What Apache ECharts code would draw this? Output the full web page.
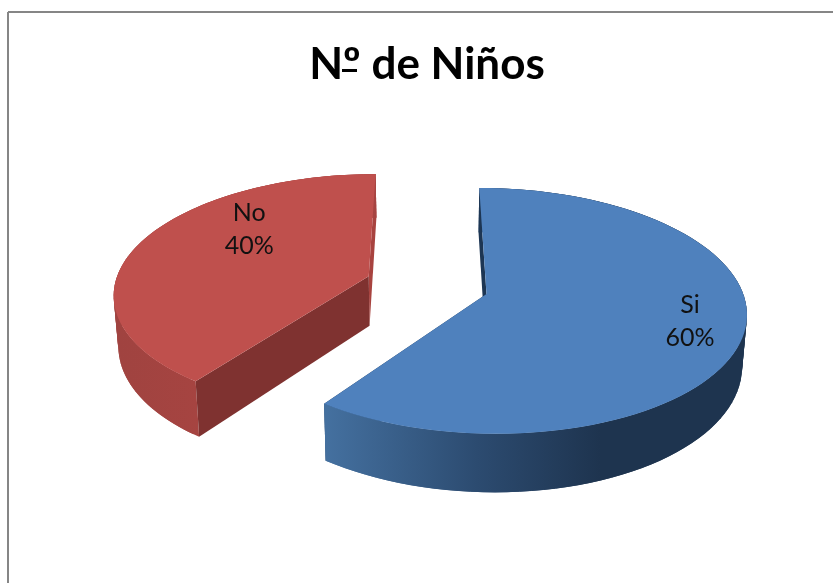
<!DOCTYPE html>
<html>
<head>
<meta charset="utf-8">
<style>html,body{margin:0;padding:0;background:#fff}#c{width:833px;height:583px}</style>
<script src="https://cdn.jsdelivr.net/npm/echarts@6/dist/echarts.min.js"></script>
</head>
<body>
<div id="c"></div>
<script>
var categories = ['Si', 'No'];
var values = [60, 40];
var chartTitle = 'Nº de Niños';

// styling and projection of the tilted, exploded pie
var topColors = ['#4f81bd', '#bf504d'];
var startFaceColors = ['#1d3654', '#7f3230'];
var endFaceColors = ['#1d3654', '#a8433f'];
var sideStops = [
  [[0, '#44709f'], [0.55, '#2c4b70'], [1, '#1e344f']],
  [[0, '#a04340'], [1, '#a64441']]
];
var sideSpan = [[327, 600], [118, 200]];
var labelAt = [{ deg: 106.05, f: 0.781 }, { deg: 309.8, f: 0.661 }];
var view = { cx: 427, cy: 285, rx: 258, ry: 120, radius: 0.985, persp: 0.138, explode: 0.24, depth: 50, baseScale: 0.985 };

var total = values.reduce(function (a, b) { return a + b; }, 0);

function project(u, v, lower) {
  var s = 1 / (1 - view.persp * v);
  var x = view.rx * u * s;
  var y = view.ry * v * s;
  if (lower) { x *= view.baseScale; y += view.depth * s; }
  return [view.cx + x, view.cy + y];
}
function polar(o, deg, r) {
  var a = deg * Math.PI / 180;
  return [o[0] + r * Math.sin(a), o[1] - r * Math.cos(a)];
}
function startDeg(i) {
  var sum = 0;
  for (var k = 0; k < i; k++) sum += values[k];
  return sum / total * 360;
}
function renderSlice(params, api) {
  var i = params.dataIndex;
  var value = api.value(0);
  var a0 = startDeg(i), a1 = a0 + value / total * 360;
  var mid = (a0 + a1) / 2 * Math.PI / 180;
  var o = [view.explode * Math.sin(mid), -view.explode * Math.cos(mid)];
  var n = 90, rimTop = [], rimLow = [];
  for (var k = 0; k <= n; k++) {
    var p = polar(o, a0 + (a1 - a0) * k / n, view.radius);
    rimTop.push(project(p[0], p[1], false));
    rimLow.push(project(p[0], p[1], true));
  }
  var cTop = project(o[0], o[1], false), cLow = project(o[0], o[1], true);
  var stops = sideStops[i].map(function (s) { return { offset: s[0], color: s[1] }; });
  var sideFill = { type: 'linear', global: true, x: sideSpan[i][0], y: 0, x2: sideSpan[i][1], y2: 0, colorStops: stops };
  var l = polar(o, labelAt[i].deg, labelAt[i].f);
  var lp = project(l[0], l[1], false);
  var children = [
    { type: 'polygon', shape: { points: [cTop, rimTop[n], rimLow[n], cLow] }, style: { fill: endFaceColors[i] } }
  ];
  for (var q = 0; q < n; q++) {
    var e = Math.min(q + 2, n);
    children.push({
      type: 'polygon',
      shape: { points: [rimTop[q], rimTop[e], rimLow[e], rimLow[q]] },
      style: { fill: sideFill }
    });
  }
  children.push(
    { type: 'polygon', shape: { points: [cTop, rimTop[0], rimLow[0], cLow] }, style: { fill: startFaceColors[i] } },
    { type: 'polygon', shape: { points: [cTop].concat(rimTop) }, style: { fill: topColors[i] } },
    { type: 'text', style: {
        text: categories[i] + '\n' + Math.round(value / total * 100) + '%',
        x: lp[0], y: lp[1], align: 'center', verticalAlign: 'middle',
        font: '25px Lato', lineHeight: 33, fill: '#111'
    } }
  );
  return { type: 'group', children: children };
}

var chart = echarts.init(document.getElementById('c'), null, { renderer: 'canvas' });
chart.setOption({
  animation: false,
  backgroundColor: '#ffffff',
  title: {
    text: chartTitle, left: 422, top: 38, textAlign: 'center',
    textStyle: { fontFamily: 'Lato', fontWeight: 'bold', fontSize: 44, color: '#000' }
  },
  graphic: [
    { type: 'line', shape: { x1: 8, y1: 12, x2: 833, y2: 12 }, style: { stroke: '#868686', lineWidth: 2 } },
    { type: 'line', shape: { x1: 8, y1: 12, x2: 8, y2: 583 }, style: { stroke: '#868686', lineWidth: 2 } },
    { type: 'rect', shape: { x: 342, y: 69, width: 15, height: 3 }, style: { fill: '#000' } }
  ],
  series: [{
    type: 'custom',
    coordinateSystem: 'none',
    silent: true,
    renderItem: renderSlice,
    data: values.map(function (v, i) { return { name: categories[i], value: [v] }; })
  }]
});
</script>
</body>
</html>
